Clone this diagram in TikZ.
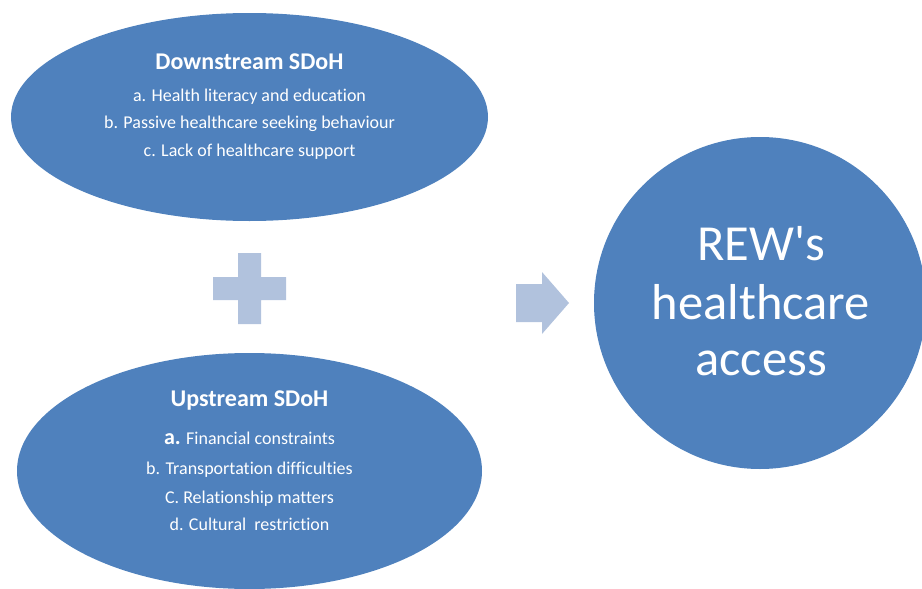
\documentclass[tikz,border=0pt]{standalone}
\usepackage{fontspec}
\setmainfont{Carlito}[Ligatures={NoCommon}]
\usetikzlibrary{shapes.geometric}
\definecolor{sdohblue}{RGB}{79,129,189}
\definecolor{signblue}{RGB}{177,194,221}
\begin{document}
\begin{tikzpicture}[x=1pt,y=-1pt,
  oval/.style={ellipse, fill=sdohblue, inner sep=0pt},
  disc/.style={circle, fill=sdohblue, inner sep=0pt},
  head/.style={text=white, font=\fontsize{24}{28}\selectfont\bfseries, anchor=base},
  item/.style={text=white, font=\fontsize{18}{22}\selectfont, anchor=base},
  big/.style={text=white, font=\fontsize{50.5}{60}\selectfont, anchor=base},
  sign/.style={fill=signblue}]
\useasboundingbox (0,0) rectangle (922,589);

% the three shapes
\node[oval, minimum width=477pt, minimum height=208pt] (down) at (249.5,117) {};
\node[oval, minimum width=465pt, minimum height=236pt] (up) at (249.5,471) {};
\node[disc, minimum size=332pt] (access) at (760,303) {};

% plus sign between the two ovals
\coordinate (plus) at (249.5,288.5);
\fill[sign] (238,253) -- (261,253) -- (261,277) -- (286,277) -- (286,300)
  -- (261,300) -- (261,324) -- (238,324) -- (238,300) -- (213,300)
  -- (213,277) -- (238,277) -- cycle;

% block arrow pointing to the circle
\coordinate (arrow) at (542,303);
\fill[sign] (516,284) -- (542,284) -- (542,272) -- (569,303) -- (542,334)
  -- (542,322) -- (516,322) -- cycle;

% downstream texts
\node[head] (downT) at (249.5,69.3) {Downstream SDoH};
\node[item] (downA) at (249.5,101) {a. Health literacy and education};
\node[item] (downB) at (249.5,128.3) {b. Passive healthcare seeking behaviour};
\node[item] (downC) at (249.5,156) {c. Lack of healthcare support};

% upstream texts
\node[head] (upT) at (249.5,406.7) {Upstream SDoH};
\node[item] (upA) at (249.5,444) {{\fontsize{22}{26}\selectfont\bfseries a.} Financial constraints};
\node[item] (upB) at (249.5,474.3) {b. Transportation difficulties};
\node[item] (upC) at (249.5,503.3) {C. Relationship matters};
\node[item] (upD) at (249.5,530) {d. Cultural~~restriction};

% outcome texts
\node[big] (accA) at (761,260.7) {REW\textquotesingle s};
\node[big] (accB) at (761,319) {healthcare};
\node[big] (accC) at (761,375) {access};
\end{tikzpicture}
\end{document}
